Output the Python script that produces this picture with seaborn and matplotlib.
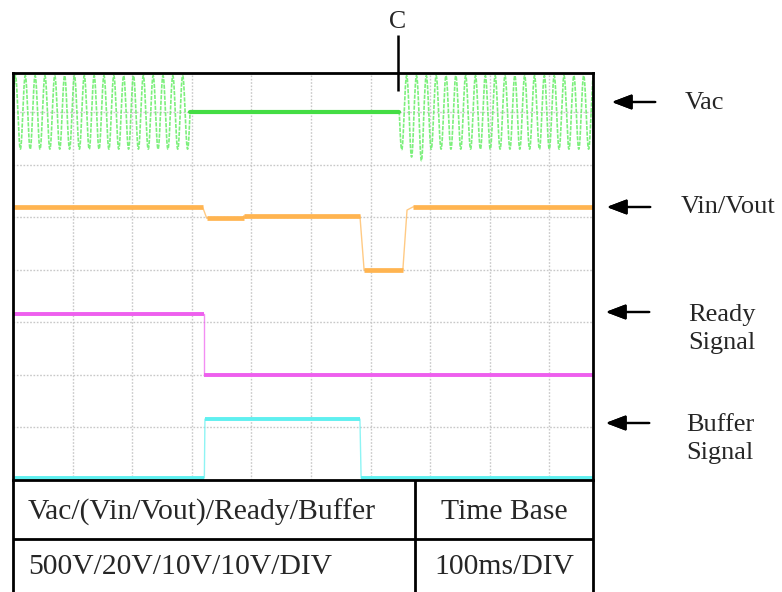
import numpy as np
import pandas as pd
import seaborn as sns
import matplotlib.pyplot as plt
from matplotlib.lines import Line2D

sns.set_theme(style="white")
plt.rcParams["font.family"] = ["Liberation Serif", "DejaVu Serif"]

# ---- screen layout in divisions (cropped scope screen) ----
X_DIVS = 9.73
Y_DIVS = 7.75

# ---- Vac (500 V/div): mains sine with a dropout ----
vac_offset = 7.0            # div, trace baseline
vac_amplitude = 0.70        # div
vac_cycles_per_div = 6.06   # 60 Hz at 100 ms/div
vac_off_start = 2.97        # div
vac_off_end = 6.48          # div
vac_restart_troughs = [0.71, 0.85, 0.92]  # depth of first troughs after restart

# ---- Vin/Vout (20 V/div) ----
vin_t = [0.0, 3.18, 3.25, 3.87, 3.87, 5.82, 5.89, 6.54, 6.61, 6.71, X_DIVS]
vin_v = [5.20, 5.20, 4.985, 4.985, 5.03, 5.03, 4.00, 4.00, 5.14, 5.20, 5.20]

# ---- Ready signal (10 V/div) ----
ready_t = [0.0, 3.21, 3.21, X_DIVS]
ready_v = [3.155, 3.155, 1.99, 1.99]

# ---- Buffer signal (10 V/div) ----
buf_t = [0.0, 3.21, 3.22, 5.82, 5.84, X_DIVS]
buf_v = [0.04, 0.04, 1.16, 1.16, 0.04, 0.04]

# ---- labels ----
channel_labels = ["Vac", "Vin/Vout", "Ready\nSignal", "Buffer\nSignal"]
table_header = ["Vac/(Vin/Vout)/Ready/Buffer", "Time Base"]
table_values = ["500V/20V/10V/10V/DIV", "100ms/DIV"]
marker_label = "C"

GREEN_THIN = "#6fee6f"
GREEN = "#44dd44"
ORANGE = "#ffb450"
MAGENTA = "#ee5fee"
CYAN = "#5ff0f0"

W, H = 782, 592
fig = plt.figure(figsize=(W / 100, H / 100), dpi=100)


def fx(px):
    return px / W


def fy(py):
    return 1 - py / H


ax_l, ax_r, ax_t, ax_b = 13, 593, 73, 480
ax = fig.add_axes([fx(ax_l), fy(ax_b), fx(ax_r - ax_l), (ax_b - ax_t) / H])
ax.set_xlim(0, X_DIVS)
ax.set_ylim(0, Y_DIVS)

# scope graticule
for gx in range(1, 10):
    ax.axvline(gx, color="#c8c8c8", lw=1.0, ls=(0, (1.2, 1.2)), zorder=0)
for gy in range(1, 8):
    ax.axhline(gy, color="#c8c8c8", lw=1.0, ls=(0, (1.2, 1.2)), zorder=0)

# Vac waveform built from the measured amplitude/frequency
period = 1.0 / vac_cycles_per_div
t1 = np.linspace(0, vac_off_start, 3000)
y1 = vac_amplitude * np.sin(2 * np.pi * (t1 - vac_off_start) / period)
t2 = np.linspace(vac_off_end, X_DIVS, 3000)
y2 = -vac_amplitude * np.sin(2 * np.pi * (t2 - vac_off_end) / period)
cyc = np.floor((t2 - vac_off_end) / period).astype(int)
for k, depth in enumerate(vac_restart_troughs):
    m = (cyc == k) & (y2 < 0)
    y2[m] *= depth / vac_amplitude
vac_df = pd.DataFrame({"t": np.concatenate([t1, [np.nan], t2]),
                       "v": np.concatenate([y1, [np.nan], y2]) + vac_offset})
sns.lineplot(data=vac_df, x="t", y="v", ax=ax, estimator=None, sort=False,
             color=GREEN_THIN, lw=1.2, alpha=0.9, dashes=False)
ax.lines[-1].set_linestyle((0, (2.5, 0.8)))
sns.lineplot(x=[vac_off_start, vac_off_end], y=[vac_offset, vac_offset], ax=ax,
             estimator=None, sort=False, color=GREEN, lw=3.0)


def draw_trace(t, v, color, lw_flat):
    t = np.asarray(t, float)
    v = np.asarray(v, float)
    # thin, faint edges
    sns.lineplot(x=t, y=v, ax=ax, estimator=None, sort=False, color=color,
                 lw=1.0, alpha=0.7)
    # thick flat segments
    for i in range(len(t) - 1):
        if abs(v[i + 1] - v[i]) < 0.06:
            sns.lineplot(x=t[i:i + 2], y=v[i:i + 2], ax=ax, estimator=None,
                         sort=False, color=color, lw=lw_flat,
                         solid_capstyle="butt")


draw_trace(vin_t, vin_v, ORANGE, 3.4)
draw_trace(ready_t, ready_v, MAGENTA, 2.8)
draw_trace(buf_t, buf_v, CYAN, 2.8)

ax.set_xticks([])
ax.set_yticks([])
ax.set_xlabel("")
ax.set_ylabel("")
for s in ax.spines.values():
    s.set_color("black")
    s.set_linewidth(2.0)
ax.set_facecolor("white")

# table under the screen
def fline(x0, y0, x1, y1, lw=2.0):
    fig.add_artist(Line2D([fx(x0), fx(x1)], [fy(y0), fy(y1)], color="black",
                          lw=lw, solid_capstyle="butt"))


fline(ax_l, ax_b, ax_l, H + 2)
fline(ax_r, ax_b, ax_r, H + 2)
fline(415, ax_b, 415, H + 2)
fline(ax_l, 539, ax_r, 539)

fs_tab = 21.3
fig.text(fx(28), fy(512), table_header[0], fontsize=fs_tab, ha="left", va="center")
fig.text(fx(504), fy(512), table_header[1], fontsize=fs_tab, ha="center", va="center")
fig.text(fx(28), fy(567), table_values[0], fontsize=fs_tab, ha="left", va="center")
fig.text(fx(504), fy(567), table_values[1], fontsize=fs_tab, ha="center", va="center")

# event marker C
fline(398, 35, 398, 91, lw=1.8)
fig.text(fx(398), fy(22), marker_label, fontsize=18.5, ha="center", va="center")

# channel pointers
pointers = [(102, 609, 658, 704, [103]),
            (207, 604, 653, 728, [207]),
            (312, 603, 652, 722, [315, 343]),
            (423, 603, 652, 720, [425, 453])]
for label, (ya, xh, xt, xtext, ys) in zip(channel_labels, pointers):
    fig.add_artist(plt.annotate("", xy=(fx(xh), fy(ya)), xytext=(fx(xt), fy(ya)),
                                xycoords="figure fraction",
                                textcoords="figure fraction",
                                arrowprops=dict(arrowstyle="-|>,head_length=1.0,head_width=0.38",
                                                color="black", lw=1.6)))
    for line, yy in zip(label.split("\n"), ys):
        fig.text(fx(xtext), fy(yy), line, fontsize=19, ha="center", va="center")

fig.savefig("out.png", dpi=100, facecolor="white")
